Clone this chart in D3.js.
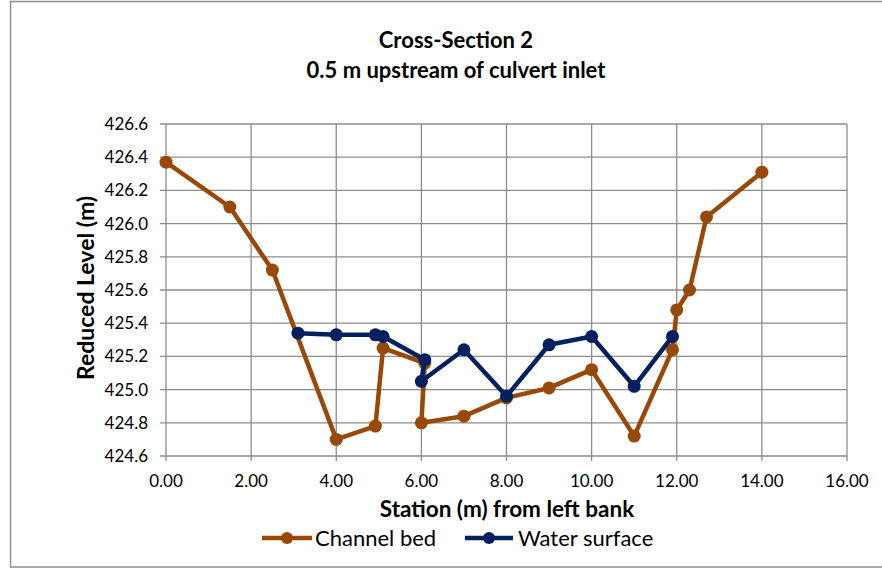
<!DOCTYPE html>
<html><head><meta charset="utf-8">
<script src="https://cdn.jsdelivr.net/npm/d3@7"></script>
<style>body{margin:0;background:#fff}svg{display:block}text{font-family:Lato,"Open Sans",sans-serif;fill:#000}</style>
</head><body><svg id="c" width="882" height="569"></svg>
<script>
const titleLines = ["Cross-Section 2", "0.5 m upstream of culvert inlet"];
const xTitle = "Station (m) from left bank";
const yTitle = "Reduced Level (m)";
const bedStation = [0.00, 1.50, 2.50, 4.00, 4.92, 5.10, 6.08, 6.00, 7.00, 8.00, 9.00, 10.00, 11.00, 11.90, 12.00, 12.30, 12.70, 14.00];
const bedLevel   = [426.37, 426.10, 425.72, 424.70, 424.78, 425.25, 425.16, 424.80, 424.84, 424.95, 425.01, 425.12, 424.72, 425.24, 425.48, 425.60, 426.04, 426.31];
const wsStation = [3.10, 4.00, 4.92, 5.10, 6.08, 6.00, 7.00, 8.00, 9.00, 10.00, 11.00, 11.90];
const wsLevel   = [425.34, 425.33, 425.33, 425.32, 425.18, 425.05, 425.24, 424.96, 425.27, 425.32, 425.02, 425.32];
const xTicks = [0, 2, 4, 6, 8, 10, 12, 14, 16];
const yTicks = [424.6, 424.8, 425.0, 425.2, 425.4, 425.6, 425.8, 426.0, 426.2, 426.4, 426.6];
const seriesNames = ["Channel bed", "Water surface"];
const colors = ["#984807", "#002060"];

const svg = d3.select("#c");
const L = 166, R = 847, T = 124, B = 456;
const x = d3.scaleLinear().domain([0, 16]).range([L, R]);
const y = d3.scaleLinear().domain([424.6, 426.6]).range([B, T]);
const grid = "#8c8c8c";

svg.append("rect").attr("x", 10.5).attr("y", 1.5).attr("width", 1000).attr("height", 565.5)
  .attr("fill", "#fff").attr("stroke", "#8f8f8f").attr("stroke-width", 1.5);

// gridlines
svg.append("g").selectAll("line").data(yTicks).join("line")
  .attr("x1", L - 6).attr("x2", R).attr("y1", d => y(d)).attr("y2", d => y(d))
  .attr("stroke", grid).attr("stroke-width", 1.3);
svg.append("g").selectAll("line").data(xTicks).join("line")
  .attr("x1", d => x(d)).attr("x2", d => x(d)).attr("y1", T).attr("y2", B + 5)
  .attr("stroke", grid).attr("stroke-width", 1.3);

// tick labels
svg.append("g").selectAll("text").data(yTicks).join("text")
  .attr("x", L - 18).attr("y", d => y(d)).attr("dy", "0.35em").attr("text-anchor", "end")
  .style("font-size", "17px").text(d => d.toFixed(1));
svg.append("g").selectAll("text").data(xTicks).join("text")
  .attr("x", d => x(d)).attr("y", 487).attr("text-anchor", "middle")
  .style("font-size", "17px").text(d => d.toFixed(2));

// titles
svg.append("text").attr("x", 456).attr("y", 48).attr("text-anchor", "middle")
  .style("font-size", "22px").style("font-weight", "bold").text(titleLines[0]);
svg.append("text").attr("x", 456).attr("y", 78).attr("text-anchor", "middle")
  .style("font-size", "22px").style("font-weight", "bold").text(titleLines[1]);
svg.append("text").attr("x", 507).attr("y", 517).attr("text-anchor", "middle")
  .style("font-size", "22.5px").style("font-weight", "bold").text(xTitle);
svg.append("text").attr("transform", `translate(94,${(T + B) / 2 - 2}) rotate(-90)`).attr("text-anchor", "middle")
  .style("font-size", "23px").style("font-weight", "bold").text(yTitle);

// series
const series = [
  bedStation.map((s, i) => [s, bedLevel[i]]),
  wsStation.map((s, i) => [s, wsLevel[i]])
];
const line = d3.line().x(d => x(d[0])).y(d => y(d[1]));
series.forEach((pts, k) => {
  const g = svg.append("g");
  g.append("path").datum(pts).attr("d", line).attr("fill", "none")
    .attr("stroke", colors[k]).attr("stroke-width", 4.5).attr("stroke-linejoin", "round");
  g.selectAll("circle").data(pts).join("circle")
    .attr("cx", d => x(d[0])).attr("cy", d => y(d[1])).attr("r", 6.5).attr("fill", colors[k]);
});

// legend
const legY = 538;
const leg = [{x0: 262, x1: 312, tx: 315}, {x0: 465, x1: 513, tx: 518}];
leg.forEach((p, k) => {
  svg.append("line").attr("x1", p.x0).attr("x2", p.x1).attr("y1", legY).attr("y2", legY)
    .attr("stroke", colors[k]).attr("stroke-width", 4.5);
  svg.append("circle").attr("cx", (p.x0 + p.x1) / 2).attr("cy", legY).attr("r", 6).attr("fill", colors[k]);
  svg.append("text").attr("x", p.tx).attr("y", 546).style("font-size", "22px").text(seriesNames[k]);
});
</script></body></html>
